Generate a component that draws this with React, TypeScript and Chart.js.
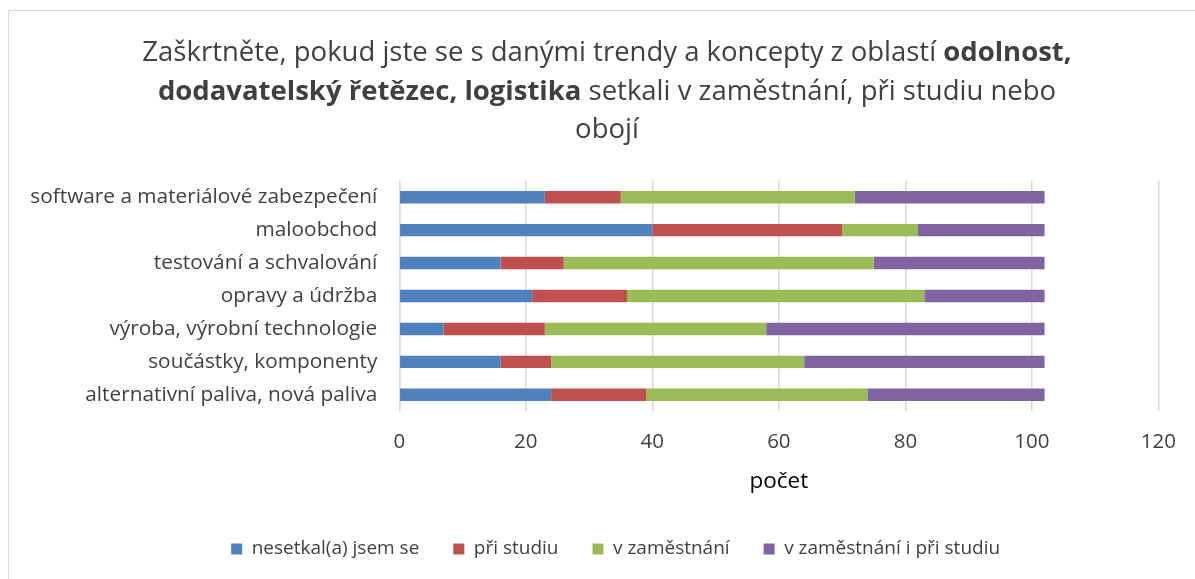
import React, { useEffect, useRef } from "react";
import { Chart, registerables } from "chart.js";

Chart.register(...registerables);

const categories = [
  "software a materiálové zabezpečení",
  "maloobchod",
  "testování a schvalování",
  "opravy a údržba",
  "výroba, výrobní technologie",
  "součástky, komponenty",
  "alternativní paliva, nová paliva",
];

const seriesNames = [
  "nesetkal(a) jsem se",
  "při studiu",
  "v zaměstnání",
  "v zaměstnání i při studiu",
];

const nesetkal = [23, 40, 16, 21, 7, 16, 24];
const priStudiu = [12, 30, 10, 15, 16, 8, 15];
const vZamestnani = [37, 12, 49, 47, 35, 40, 35];
const obojí = [30, 20, 27, 19, 44, 38, 28];

const xTicks = [0, 20, 40, 60, 80, 100, 120];

const colors = ["#4f81bd", "#c0504d", "#9bbb59", "#8064a2"];

const FONT = "'Open Sans', 'DejaVu Sans', sans-serif";
const TEXT = "#404040";

const LEGEND_SHIFT = 36;

const legendShift = {
  id: "legendShift",
  afterLayout(chart: any) {
    const lg = chart.legend;
    if (lg) {
      lg.left += LEGEND_SHIFT;
      lg.right += LEGEND_SHIFT;
    }
  },
};

export default function App() {
  const canvasRef = useRef<HTMLCanvasElement | null>(null);

  useEffect(() => {
    const prevOverflow = document.body.style.overflow;
    document.body.style.overflow = "hidden";
    const ctx = canvasRef.current;
    if (!ctx) return;
    const values = [nesetkal, priStudiu, vZamestnani, obojí];
    const chart = new Chart(ctx, {
      type: "bar",
      data: {
        labels: categories,
        datasets: seriesNames.map((name, i) => ({
          label: name,
          data: values[i],
          backgroundColor: colors[i],
          borderWidth: 0,
          barPercentage: 0.54,
          categoryPercentage: 0.7,
        })),
      },
      plugins: [legendShift],
      options: {
        indexAxis: "y",
        animation: false,
        responsive: false,
        maintainAspectRatio: false,
        layout: { padding: { top: 180.7, left: 0, right: 35.7, bottom: 10.5 } },
        scales: {
          x: {
            stacked: true,
            min: xTicks[0],
            max: xTicks[xTicks.length - 1],
            afterBuildTicks: (scale: any) => {
              scale.ticks = xTicks.map((v) => ({ value: v }));
            },
            grid: { color: "#d9d9d9", lineWidth: 1.5, drawTicks: false },
            border: { display: false },
            ticks: {
              padding: 19,
              color: TEXT,
              font: { family: FONT, size: 20.5 },
            },
            title: {
              display: true,
              text: "počet",
              color: "#000000",
              font: { family: FONT, size: 22.5 },
              padding: { top: 0, bottom: 10 },
            },
            afterFit: (scale: any) => {
              scale.height = 94.2;
            },
          },
          y: {
            stacked: true,
            grid: { display: false, drawTicks: false },
            border: { display: true, color: "#d9d9d9", width: 1.5 },
            ticks: {
              padding: 22,
              color: TEXT,
              font: { family: FONT, size: 20.8 },
            },
            afterFit: (scale: any) => {
              scale.width = 399.3;
            },
          },
        },
        plugins: {
          title: { display: false },
          tooltip: { enabled: false },
          legend: {
            position: "bottom",
            labels: {
              boxWidth: 11,
              boxHeight: 11,
              padding: 34,
              color: TEXT,
              font: { family: FONT, size: 19 },
            },
          },
        },
      },
    });
    return () => {
      chart.destroy();
      document.body.style.overflow = prevOverflow;
    };
  }, []);

  return (
    <div
      style={{
        position: "fixed",
        left: 0,
        top: 0,
        width: 1195,
        height: 579,
        overflow: "hidden",
        background: "#ffffff",
      }}
    >
      <div
        style={{
          position: "absolute",
          left: 8,
          top: 10,
          width: 1400,
          height: 800,
          border: "1.5px solid #d9d9d9",
          boxSizing: "border-box",
        }}
      />
      <canvas
        ref={canvasRef}
        width={1195}
        height={579}
        style={{ position: "absolute", left: 0, top: 0, width: 1195, height: 579 }}
      />
      <div
        style={{
          position: "absolute",
          left: 57,
          width: 1100,
          top: 32,
          textAlign: "center",
          fontFamily: FONT,
          fontSize: 27.5,
          lineHeight: "38.5px",
          color: TEXT,
        }}
      >
        Zaškrtněte, pokud jste se s danými trendy a koncepty z oblastí <b>odolnost,</b>
        <br />
        <b>dodavatelský řetězec, logistika</b> setkali v zaměstnání, při studiu nebo
        <br />
        obojí
      </div>
    </div>
  );
}
